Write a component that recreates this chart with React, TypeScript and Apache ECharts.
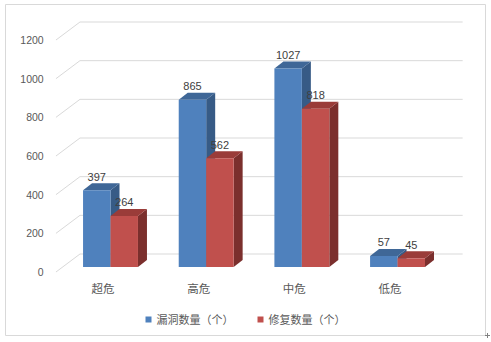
import React, { useEffect, useRef } from "react";
import * as echarts from "echarts";

const categories = ["超危", "高危", "中危", "低危"];
const vulnCounts = [397, 865, 1027, 57];
const fixedCounts = [264, 562, 818, 45];
const yTicks = [0, 200, 400, 600, 800, 1000, 1200];
const seriesNames = ["漏洞数量（个）", "修复数量（个）"];

const FONT = "'Liberation Sans', 'Noto Sans CJK SC', sans-serif";
const DEPTH_X = 9;
const DEPTH_Y = 7;

function makeBarRender(side: number, front: string, top: string, right: string) {
  return (params: any, api: any) => {
    const idx = api.value(0);
    const val = api.value(1);
    const topPt = api.coord([idx, val]);
    const basePt = api.coord([idx, 0]);
    const band = api.size([1, 0])[0];
    const barW = band * 0.287;
    const cx = topPt[0];
    const x0 = side === 0 ? cx - barW : cx;
    const x1 = side === 0 ? cx : cx + barW;
    const yt = topPt[1];
    const yb = basePt[1];
    return {
      type: "group",
      children: [
        {
          type: "polygon",
          shape: { points: [[x1, yt], [x1 + DEPTH_X, yt - DEPTH_Y], [x1 + DEPTH_X, yb - DEPTH_Y], [x1, yb]] },
          style: { fill: right },
        },
        {
          type: "polygon",
          shape: { points: [[x0, yt], [x1, yt], [x1 + DEPTH_X, yt - DEPTH_Y], [x0 + DEPTH_X, yt - DEPTH_Y]] },
          style: { fill: top },
        },
        {
          type: "rect",
          shape: { x: x0, y: yt, width: x1 - x0, height: yb - yt },
          style: { fill: front },
        },
        {
          type: "text",
          x: (x0 + x1) / 2,
          y: yt - 13.5,
          style: {
            text: String(val),
            fill: "#404040",
            font: `11px ${FONT}`,
            align: "center",
            verticalAlign: "middle",
          },
        },
      ],
    };
  };
}

export default function App() {
  const ref = useRef<HTMLDivElement>(null);
  useEffect(() => {
    if (!ref.current) return;
    const chart = echarts.init(ref.current, undefined, { renderer: "svg" });
    const gridRender = (params: any, api: any) => {
      const v = api.value(1);
      const band = api.size([1, 0])[0];
      const l = api.coord([0, v]);
      const r = api.coord([categories.length - 1, v]);
      const left = l[0] - band / 2;
      const right = r[0] + band / 2;
      const y = l[1];
      return {
        type: "polyline",
        shape: {
          points: [
            [left - 6.7, y + 5],
            [left + 17.3, y - 13],
            [right + 17.3, y - 13],
          ],
        },
        style: { stroke: "#D9D9D9", lineWidth: 1, fill: "none" },
        silent: true,
      };
    };
    chart.setOption({
      animation: false,
      backgroundColor: "#ffffff",
      grid: { left: 62.67, right: 491 - 62.67 - 382.7, top: 35, bottom: 75 },
      xAxis: {
        type: "category",
        data: categories,
        boundaryGap: true,
        axisLine: { show: false },
        axisTick: { show: false },
        splitLine: { show: false },
        axisLabel: {
          margin: 16,
          color: "#595959",
          fontSize: 11.5,
          fontFamily: FONT,
          padding: [0, 15, 0, 0],
        },
      },
      yAxis: {
        type: "value",
        min: 0,
        max: 1200,
        interval: 200,
        axisLine: { show: false },
        axisTick: { show: false },
        splitLine: { show: false },
        axisLabel: {
          margin: 19,
          color: "#595959",
          fontSize: 10.5,
          fontFamily: FONT,
          verticalAlign: "top",
          lineHeight: 10,
          formatter: (v: number) => String(v),
        },
      },
      legend: {
        data: seriesNames,
        top: 309,
        left: "center",
        icon: "rect",
        itemWidth: 6,
        itemHeight: 6,
        itemGap: 24,
        textStyle: { color: "#595959", fontSize: 11, fontFamily: FONT },
      },
      graphic: [
        {
          type: "rect",
          shape: { x: 5.5, y: 4.5, width: 480, height: 331 },
          style: { fill: "none", stroke: "#D9D9D9", lineWidth: 1 },
          z: -1,
          silent: true,
        },
        {
          type: "line",
          shape: { x1: 485, y1: 335.5, x2: 490, y2: 335.5 },
          style: { stroke: "#808080", lineWidth: 1 },
        },
        {
          type: "line",
          shape: { x1: 487.5, y1: 333, x2: 487.5, y2: 338 },
          style: { stroke: "#808080", lineWidth: 1 },
        },
      ],
      series: [
        {
          type: "custom",
          name: "grid",
          renderItem: gridRender,
          data: yTicks.map((v) => [0, v]),
          clip: false,
          silent: true,
          z: 0,
        },
        {
          type: "custom",
          name: seriesNames[0],
          renderItem: makeBarRender(0, "#4F81BD", "#3F6797", "#375B86"),
          data: vulnCounts.map((v, i) => [i, v]),
          itemStyle: { color: "#4F81BD" },
          clip: false,
          z: 2,
        },
        {
          type: "custom",
          name: seriesNames[1],
          renderItem: makeBarRender(1, "#C0504D", "#9A3C39", "#7B2F2D"),
          data: fixedCounts.map((v, i) => [i, v]),
          itemStyle: { color: "#C0504D" },
          clip: false,
          z: 3,
        },
      ],
    });
    return () => chart.dispose();
  }, []);
  return <div ref={ref} style={{ width: 491, height: 342, position: "absolute", left: 0, top: 0 }} />;
}
